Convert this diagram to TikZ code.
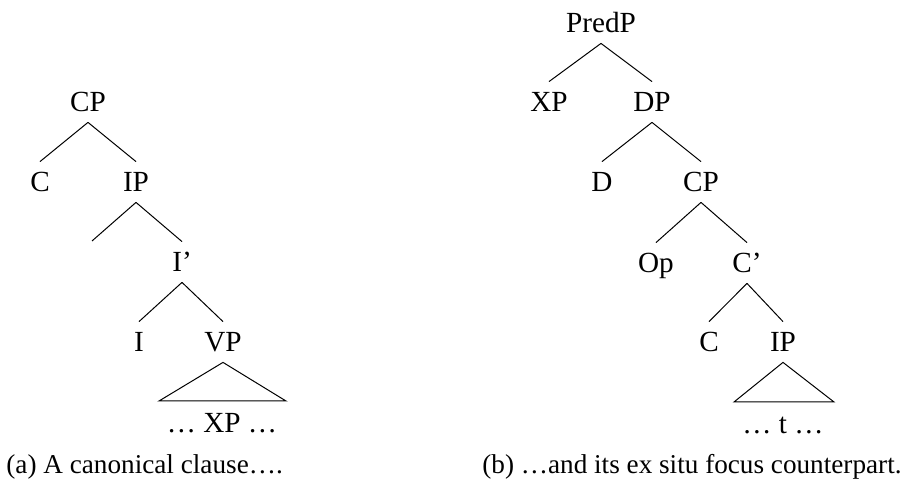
\documentclass[tikz,border=0pt]{standalone}
\usepackage{fontspec}
\setmainfont{Liberation Serif}
\tikzset{
  cat/.style={inner sep=0pt, text height=9.5pt, text depth=0pt, minimum height=20pt, font=\fontsize{14.6}{17}\selectfont},
  branch/.style={line width=.5pt},
  capt/.style={inner sep=0pt, anchor=base, font=\fontsize{13.6}{16}\selectfont}
}
\begin{document}
\begin{tikzpicture}[x=.5pt,y=-.5pt]
\useasboundingbox (0,0) rectangle (906,480);
% (a) canonical clause
\node[cat] (cpA)   at (88,102)  {CP};
\node[cat] (cA)    at (40,182)  {C};
\node[cat] (ipA)   at (136,182) {IP};
\coordinate (specA) at (92,241);
\node[cat] (ibarA) at (182,262) {I’};
\node[cat] (iA)    at (139,342) {I};
\node[cat] (vpA)   at (223,342) {VP};
\coordinate (tlA) at (159,401);
\coordinate (trA) at (286,401);
\node[cat] (xpinA) at (222,423) {… XP …};
\foreach\p/\c in {cpA/cA,cpA/ipA,ipA/ibarA,ibarA/iA,ibarA/vpA}
  \draw[branch] (\p.south)--(\c.north);
\draw[branch] (ipA.south)--(specA);
\draw[branch] (vpA.south)--(tlA)--(trA)--cycle;
\node[capt,anchor=base west] (captA) at (6,474) {(a) A canonical clause….};
% (b) ex situ focus
\node[cat] (predB) at (601,23)  {PredP};
\node[cat] (xpB)   at (549,102) {XP};
\node[cat] (dpB)   at (652,102) {DP};
\node[cat] (dB)    at (602,182) {D};
\node[cat] (cpB)   at (701,182) {CP};
\node[cat] (opB)   at (656,263) {Op};
\node[cat] (cbarB) at (747,263) {C’};
\node[cat] (cB)    at (709,342) {C};
\node[cat] (ipB)   at (783,342) {IP};
\coordinate (tlB) at (734,402);
\coordinate (trB) at (834,402);
\node[cat] (tinB)  at (783,424) {… t …};
\foreach\p/\c in {predB/xpB,predB/dpB,dpB/dB,dpB/cpB,cpB/opB,cpB/cbarB,cbarB/cB,cbarB/ipB}
  \draw[branch] (\p.south)--(\c.north);
\draw[branch] (ipB.south)--(tlB)--(trB)--cycle;
\node[capt,anchor=base east] (captB) at (902,474) {(b) …and its ex situ focus counterpart.};
\end{tikzpicture}
\end{document}
